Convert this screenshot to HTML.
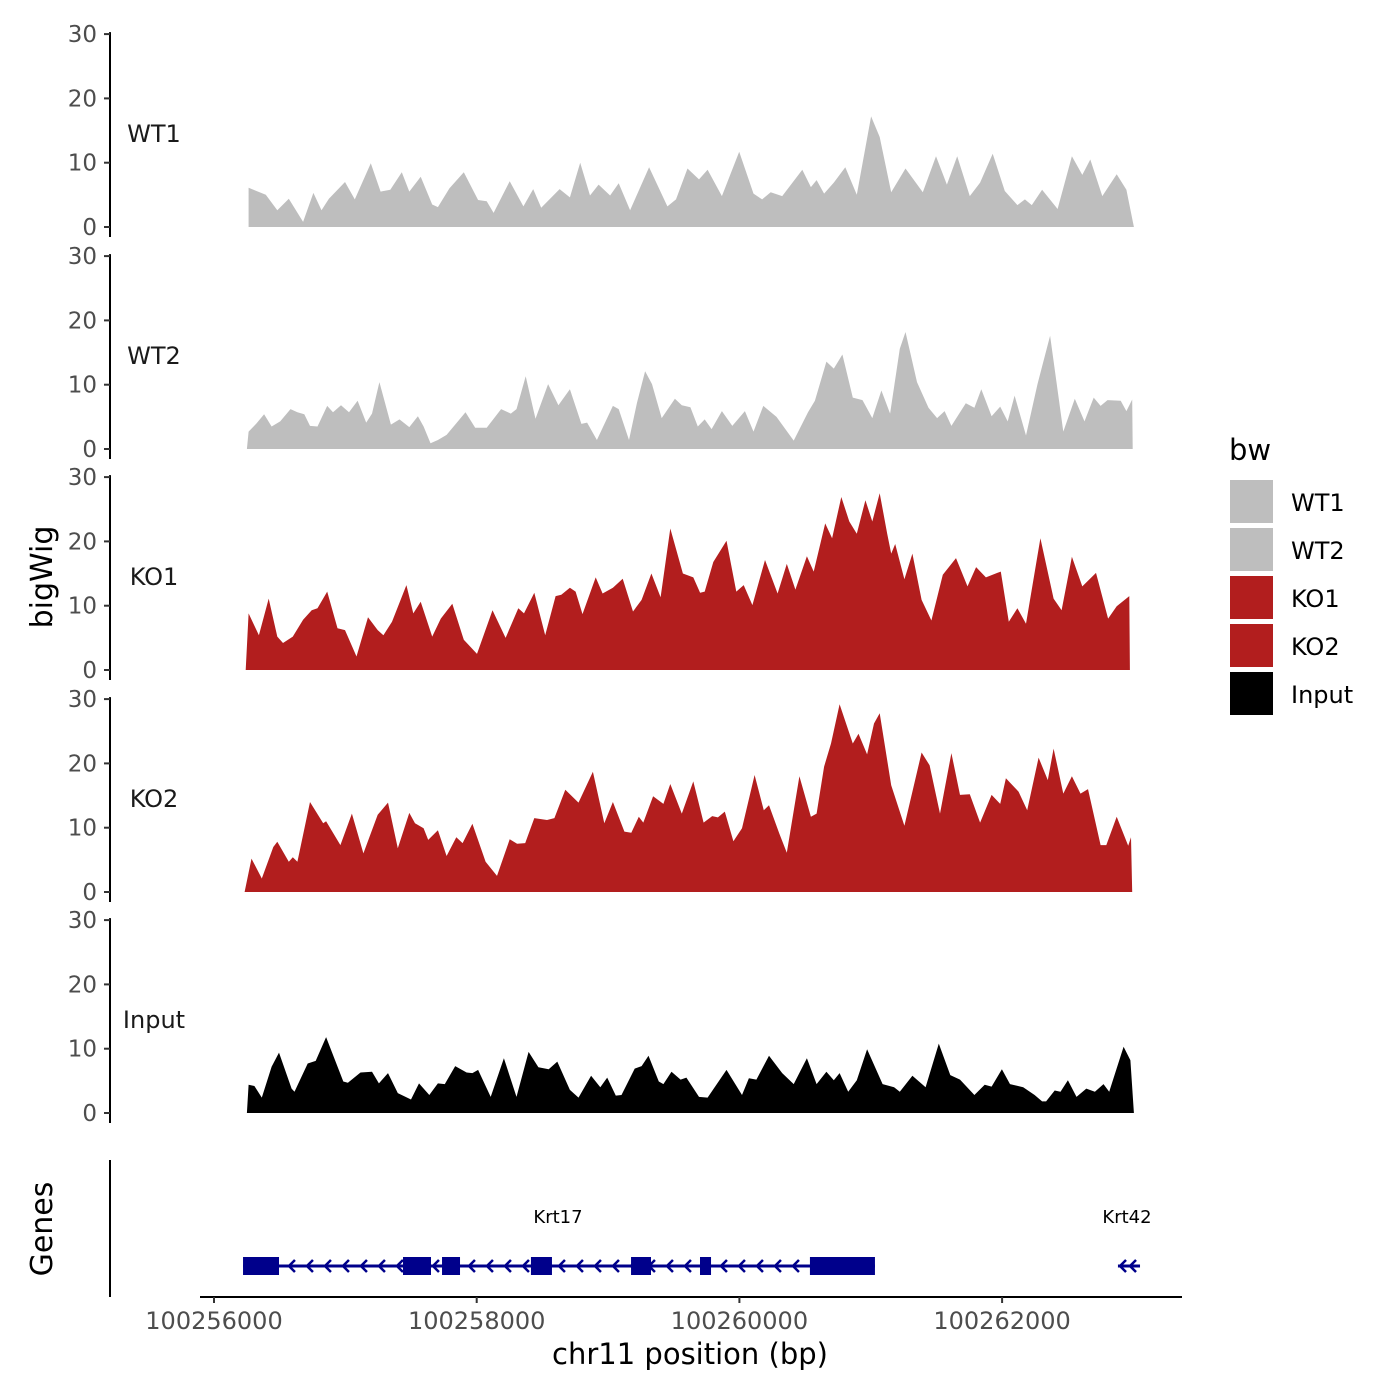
<!DOCTYPE html>
<html><head><meta charset="utf-8"><style>
html,body{margin:0;padding:0;background:#fff}
svg{display:block;font-family:"DejaVu Sans","Liberation Sans",sans-serif}
</style></head><body>
<svg id="chart" width="1400" height="1400" viewBox="0 0 1400 1400" xmlns="http://www.w3.org/2000/svg">
<g id="tracks"></g>
<g id="genes"></g>
<g id="xaxis"></g>
<text x="52" y="577" font-size="30" text-anchor="middle" transform="rotate(-90 52 577)" fill="#000">bigWig</text>
<text x="52" y="1229" font-size="30" text-anchor="middle" transform="rotate(-90 52 1229)" fill="#000">Genes</text>
<text x="690" y="1364" font-size="29" text-anchor="middle" fill="#000">chr11 position (bp)</text>
<g id="legend"></g>
</svg>
<script>
const regionStart = 100256198;
const binSize = 4.368;
const trackNames = ["WT1","WT2","KO1","KO2","Input"];
const trackColors = ["#bebebe","#bebebe","#b21e1e","#b21e1e","#000000"];
const yTicks = [0,10,20,30];
const xTicks = [100256000,100258000,100260000,100262000];

const wt1Pos = [15,45,65,85,110,128,142,155,183,200,228,245,262,282,295,315,335,345,365,390,415,430,442,470,494,511,525,557,575,593,610,625,645,660,680,713,745,760,780,800,815,840,870,895,910,925,945,980,995,1005,1018,1035,1055,1075,1100,1115,1135,1160,1190,1213,1232,1250,1272,1290,1312,1333,1355,1368,1380,1398,1425,1450,1468,1482,1503,1528,1545,1558];
const wt1Val = [6.1,5.0,2.6,4.4,0.8,5.3,2.6,4.4,7.0,4.3,9.9,5.5,5.8,8.5,5.5,7.8,3.5,3.1,6.0,8.5,4.2,4.0,2.2,7.1,3.2,5.9,3.0,5.9,4.6,10.0,4.9,6.6,4.9,6.8,2.6,9.3,3.2,4.3,9.1,7.4,8.9,4.8,11.7,5.2,4.3,5.4,4.8,8.9,6.2,7.3,5.2,6.9,9.3,5.0,17.2,14.0,5.4,9.1,5.4,11.0,6.6,11.0,4.8,6.9,11.4,5.6,3.4,4.3,3.4,5.8,2.8,11.0,8.1,10.5,4.8,8.2,5.8,0];

const wt2Pos = [12,15,28,42,55,70,88,100,112,122,135,152,162,176,190,205,220,230,243,263,278,295,310,320,332,345,360,393,410,430,455,472,482,498,515,537,555,575,595,605,622,650,660,678,692,706,718,735,758,770,785,798,810,822,840,858,880,895,912,935,965,990,1002,1022,1035,1050,1068,1085,1102,1118,1133,1150,1160,1180,1200,1215,1228,1240,1265,1280,1292,1310,1325,1338,1350,1370,1390,1412,1435,1455,1472,1488,1500,1512,1535,1545,1555,1556];
const wt2Val = [0,2.7,3.9,5.4,3.5,4.3,6.2,5.7,5.4,3.6,3.5,6.7,5.7,6.8,5.7,7.5,4.1,5.5,10.4,3.8,4.6,3.4,5.1,3.5,0.9,1.4,2.2,5.7,3.3,3.3,6.2,5.5,6.2,11.3,4.7,10.1,6.8,9.3,3.9,4.1,1.4,6.7,6.2,1.4,7.2,12.1,10.1,4.8,7.8,6.8,6.5,3.5,4.6,3.1,5.9,3.6,5.9,2.7,6.7,5.0,1.3,5.7,7.5,13.6,12.5,14.7,8.0,7.6,4.8,9.1,5.5,15.6,18.2,10.4,6.4,4.8,5.9,3.6,7.1,6.4,9.3,5.1,6.6,4.3,8.3,2.1,10.1,17.6,2.7,7.8,4.3,8.0,6.7,7.6,7.5,5.9,7.7,0];

const ko1Pos = [10,15,33,50,65,75,92,110,125,135,152,170,183,203,223,240,250,265,290,302,315,335,350,370,390,413,440,463,485,495,513,532,550,560,575,585,597,620,632,650,667,685,700,717,733,750,772,790,802,810,825,848,865,878,893,915,937,953,968,988,1000,1020,1032,1048,1062,1075,1090,1102,1115,1128,1135,1142,1158,1172,1188,1205,1225,1248,1268,1283,1300,1320,1326,1340,1355,1370,1395,1418,1432,1450,1468,1492,1513,1528,1550,1551];
const ko1Val = [0,8.8,5.4,11.1,5.2,4.2,5.2,7.8,9.3,9.6,12.2,6.5,6.2,2.1,8.2,6.2,5.4,7.5,13.2,8.8,10.6,5.2,8.0,10.3,4.7,2.5,9.3,5.0,9.6,8.8,12.0,5.4,11.5,11.7,12.8,12.2,8.7,14.4,11.9,12.8,14.2,9.1,10.9,15.0,11.3,22.0,15.0,14.4,12.0,12.2,16.8,20.1,12.2,13.2,10.1,17.1,11.9,16.5,12.5,17.7,15.3,22.8,20.5,26.9,23.1,21.2,26.4,23.1,27.5,21.2,18.1,19.6,14.1,18.1,10.9,7.7,14.8,17.4,13.0,16.0,14.4,15.1,15.3,7.5,9.6,7.2,20.5,11.1,9.3,17.6,13.0,15.1,8.0,9.9,11.5,0];

const ko2Pos = [8,20,38,58,65,85,92,100,122,145,150,175,195,215,240,258,275,295,305,320,328,345,360,377,388,405,428,448,470,483,497,513,535,548,567,590,615,635,650,670,682,695,703,720,738,750,770,790,808,823,833,845,860,875,897,913,922,940,953,975,995,1005,1018,1030,1045,1068,1078,1093,1105,1115,1135,1158,1188,1202,1220,1240,1255,1272,1290,1310,1325,1335,1357,1372,1392,1408,1418,1435,1450,1465,1478,1500,1510,1528,1548,1553,1555];
const ko2Val = [0,5.2,2.1,7.0,7.8,4.7,5.4,4.7,14.0,10.7,11.0,7.3,12.2,6.0,12.0,13.9,6.8,12.3,10.7,9.9,8.1,9.6,5.6,8.5,7.6,10.6,4.7,2.5,8.2,7.5,7.6,11.5,11.2,11.5,15.9,13.9,18.7,10.7,14.0,9.4,9.2,11.7,10.8,14.9,13.7,16.8,12.2,17.2,10.8,11.8,11.6,12.5,7.9,9.9,18.2,12.7,13.5,9.1,6.1,18.0,11.7,12.2,19.5,23.1,29.2,23.1,24.6,21.4,26.2,27.8,16.6,10.3,21.7,19.7,12.2,21.6,15.1,15.2,10.8,15.1,13.7,17.7,15.6,12.7,20.9,17.4,22.3,15.3,18.0,15.3,16.0,7.3,7.3,11.7,7.2,8.5,0];

const inputPos = [12,15,25,38,55,68,90,95,118,132,150,180,188,210,230,242,258,275,298,312,330,345,357,375,395,405,415,437,460,482,503,520,538,553,575,590,612,628,640,655,665,688,700,712,730,738,752,768,778,800,815,848,875,887,900,922,945,965,988,1005,1022,1035,1045,1060,1075,1093,1120,1140,1150,1172,1195,1218,1238,1255,1280,1298,1310,1328,1342,1365,1385,1398,1405,1420,1430,1443,1458,1475,1490,1505,1515,1540,1552,1558];
const inputVal = [0,4.4,4.2,2.4,7.2,9.4,3.8,3.3,7.7,8.1,11.8,4.9,4.7,6.3,6.4,4.6,6.2,3.1,2.1,4.6,2.8,4.6,4.5,7.3,6.3,6.2,6.7,2.5,8.5,2.5,9.5,7.1,6.8,8.0,3.6,2.4,5.8,4.0,5.5,2.7,2.8,6.9,7.3,8.9,4.9,4.5,6.4,5.2,5.5,2.5,2.4,6.7,2.8,5.4,5.2,8.9,6.2,4.5,8.5,4.5,6.4,5.1,6.2,3.3,5.1,9.9,4.5,4.0,3.3,5.8,4.0,10.8,5.9,5.2,2.8,4.4,4.1,6.8,4.5,4.0,2.8,1.8,1.8,3.5,3.3,5.1,2.5,3.8,3.3,4.5,3.3,10.3,8.2,0];

const exonStarts = [100256221,100257439,100257736,100258413,100259175,100259700,100260537];
const exonEnds = [100256495,100257652,100257873,100258573,100259327,100259784,100261032];
const geneNames = ["Krt17","Krt42"];
const geneStarts = [100256221,100262882];
const geneEnds = [100261032,100263050];

const NS="http://www.w3.org/2000/svg";
function mk(tag,attrs,parent){const e=document.createElementNS(NS,tag);for(const k in attrs)e.setAttribute(k,attrs[k]);parent.appendChild(e);return e;}
function xScale(bp){return 214+(bp-100256000)*(262.7/2000);}
const panelZero=[227,449,670,892,1113];
const pxPerUnit=6.43;
function yScale(p,v){return panelZero[p]-v*pxPerUnit;}
function binToBp(b){return regionStart+b*binSize;}

const allPos=[wt1Pos,wt2Pos,ko1Pos,ko2Pos,inputPos];
const allVal=[wt1Val,wt2Val,ko1Val,ko2Val,inputVal];
const tracks=document.getElementById('tracks');
for(let p=0;p<5;p++){
  const g=mk('g',{},tracks);
  
  
  const pos=allPos[p],val=allVal[p];
  let d='M'+xScale(binToBp(pos[0])).toFixed(1)+','+yScale(p,0);
  for(let i=0;i<pos.length;i++)d+=' L'+xScale(binToBp(pos[i])).toFixed(1)+','+yScale(p,val[i]).toFixed(1);
  d+=' L'+xScale(binToBp(pos[pos.length-1])).toFixed(1)+','+yScale(p,0)+' Z';
  const area=mk('path',{d:d,fill:trackColors[p],'stroke-linejoin':'round'},g);
  
  
  const ax=mk('line',{x1:110,x2:110,y1:yScale(p,30)-2,y2:yScale(p,0)+10,stroke:'#000','stroke-width':2},g);
  
  
  for(const t of yTicks){
    const tk=mk('line',{x1:104,x2:110,y1:yScale(p,t),y2:yScale(p,t),stroke:'#333','stroke-width':2},g);
    
    
    const tl=mk('text',{x:97,y:yScale(p,t)+8,'font-size':23,'text-anchor':'end',fill:'#4d4d4d'},g);
    tl.textContent=t;
    
    
  }
  const lab=mk('text',{x:154,y:yScale(p,0)-85,'font-size':24,'text-anchor':'middle',fill:'#1a1a1a'},g);
  lab.textContent=trackNames[p];
  
  
}

// genes
const gg=document.getElementById('genes');
const gy=1266;
const gax=mk('line',{x1:110,x2:110,y1:1160,y2:1297,stroke:'#000','stroke-width':2},gg);


for(let i=0;i<geneNames.length;i++){
  const x1=xScale(geneStarts[i]),x2=xScale(geneEnds[i]);
  const ln=mk('line',{x1:x1,x2:x2,y1:gy,y2:gy,stroke:'#00008b','stroke-width':3},gg);
  
  
  for(let x=x2-8;x>x1+2;x-=(i==0?18:10)){
    const ar=mk('polyline',{points:(x+4)+','+(gy-6)+' '+(x-2)+','+gy+' '+(x+4)+','+(gy+6),fill:'none',stroke:'#00008b','stroke-width':2.5},gg);
    
    
  }
  const nm=mk('text',{x:(i==0?558:1127),y:1223,'font-size':18,'text-anchor':'middle',fill:'#000'},gg);
  nm.textContent=geneNames[i];
  
  
}
for(let i=0;i<exonStarts.length;i++){
  const r=mk('rect',{x:xScale(exonStarts[i]),y:gy-9,width:xScale(exonEnds[i])-xScale(exonStarts[i]),height:18,fill:'#00008b'},gg);
  
  
}

// x axis
const xa=document.getElementById('xaxis');
const xl=mk('line',{x1:200,x2:1182,y1:1297,y2:1297,stroke:'#000','stroke-width':2},xa);


for(const t of xTicks){
  const x=xScale(t);
  const tk=mk('line',{x1:x,x2:x,y1:1297,y2:1303,stroke:'#333','stroke-width':2},xa);
  
  
  const tl=mk('text',{x:x,y:1329,'font-size':24,'text-anchor':'middle',fill:'#4d4d4d'},xa);
  tl.textContent=t;
  
  
}

// legend
const lg=document.getElementById('legend');
const lt=mk('text',{x:1229,y:460,'font-size':29,fill:'#000'},lg);
lt.textContent='bw';


for(let i=0;i<5;i++){
  const y=480+i*48;
  const k=mk('rect',{x:1230,y:y,width:43,height:43,fill:trackColors[i]},lg);
  
  
  const t=mk('text',{x:1291,y:y+31,'font-size':24,fill:'#000'},lg);
  t.textContent=trackNames[i];
  
  
}
</script>
</body></html>
